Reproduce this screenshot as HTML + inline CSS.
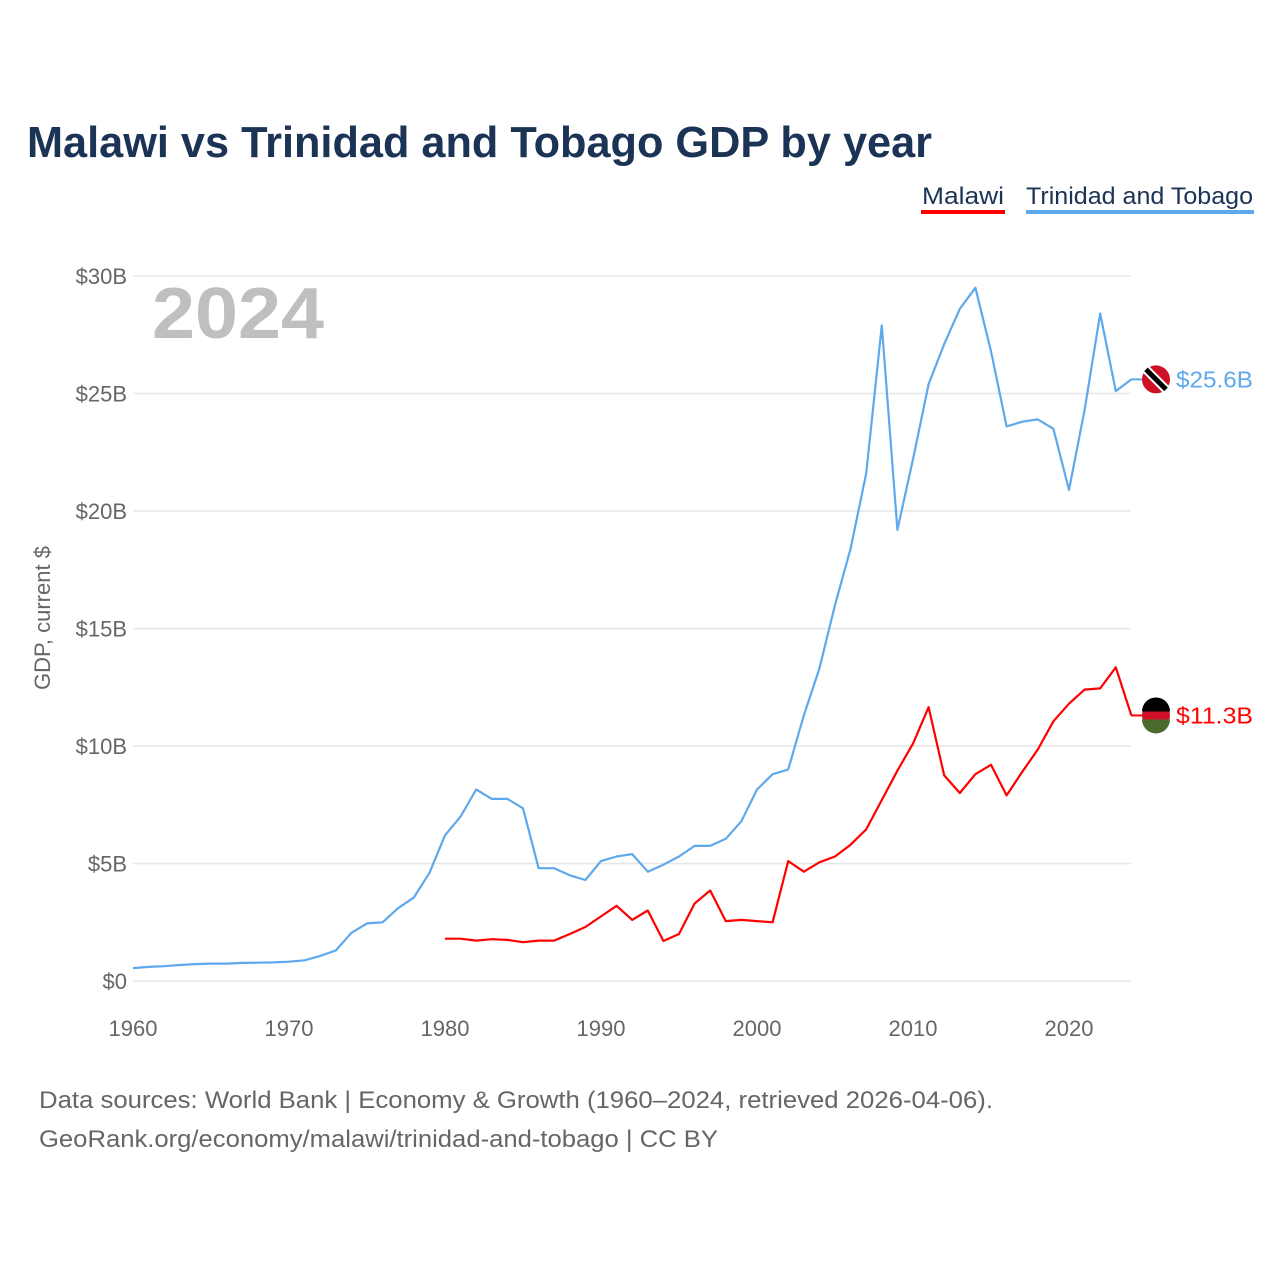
<!DOCTYPE html>
<html><head><meta charset="utf-8"><style>
body{margin:0;background:#fff;}
svg text{font-family:"Liberation Sans",sans-serif;}
</style></head><body>
<svg id="chart" width="1280" height="1280" viewBox="0 0 1280 1280" xmlns="http://www.w3.org/2000/svg">
<text x="27" y="157" font-size="44" font-weight="bold" fill="#1b3354" textLength="905" lengthAdjust="spacingAndGlyphs">Malawi vs Trinidad and Tobago GDP by year</text>
<g><text x="922" y="204" font-size="24" fill="#1b3354" textLength="82" lengthAdjust="spacingAndGlyphs">Malawi</text><rect x="921" y="210" width="84" height="4" fill="#ff0000"/></g>
<g><text x="1026" y="204" font-size="24" fill="#1b3354" textLength="227" lengthAdjust="spacingAndGlyphs">Trinidad and Tobago</text><rect x="1026" y="210" width="228" height="4" fill="#5ea8ec"/></g>
<text x="152" y="338" font-size="72" font-weight="bold" fill="#bfbfbf" textLength="172" lengthAdjust="spacingAndGlyphs">2024</text>
<text transform="translate(50,618) rotate(-90)" font-size="22" fill="#666" text-anchor="middle">GDP, current $</text>
<g id="grid"></g><g id="axes"></g><g id="series"></g>
<text x="39" y="1108" font-size="24" fill="#666" textLength="954" lengthAdjust="spacingAndGlyphs">Data sources: World Bank | Economy &amp; Growth (1960–2024, retrieved 2026-04-06).</text>
<text x="39" y="1147" font-size="24" fill="#666" textLength="679" lengthAdjust="spacingAndGlyphs">GeoRank.org/economy/malawi/trinidad-and-tobago | CC BY</text>
</svg>
<script>
const ttYears0 = 1960;
const ttValues = [0.55,0.6,0.63,0.68,0.72,0.74,0.74,0.77,0.78,0.79,0.82,0.88,1.07,1.3,2.05,2.45,2.5,3.1,3.55,4.6,6.2,7.0,8.15,7.75,7.75,7.35,4.8,4.8,4.5,4.3,5.1,5.3,5.4,4.65,4.95,5.3,5.75,5.75,6.05,6.8,8.15,8.8,9.0,11.3,13.3,16.0,18.4,21.6,27.9,19.2,22.2,25.4,27.1,28.6,29.5,26.8,23.6,23.8,23.9,23.5,20.9,24.3,28.4,25.1,25.6];
const mwYears0 = 1980;
const mwValues = [1.8,1.8,1.72,1.78,1.75,1.65,1.72,1.72,2.0,2.3,2.75,3.2,2.6,3.0,1.7,2.0,3.3,3.85,2.55,2.6,2.55,2.5,5.1,4.65,5.05,5.3,5.8,6.45,7.7,8.95,10.1,11.65,8.75,8.0,8.8,9.2,7.9,8.9,9.85,11.05,11.8,12.4,12.45,13.35,11.3];
const yTicks = [0,5,10,15,20,25,30];
const yTickLabels = ["$0","$5B","$10B","$15B","$20B","$25B","$30B"];
const xTicks = [1960,1970,1980,1990,2000,2010,2020];
const NS="http://www.w3.org/2000/svg";
const x = yr => 133 + (yr-1960)*15.6;
const y = v => 981 - v*23.5;
function mk(tag, attrs, parent){const e=document.createElementNS(NS,tag);for(const k in attrs)e.setAttribute(k,attrs[k]);parent.appendChild(e);return e;}
const grid=document.getElementById('grid'), axes=document.getElementById('axes'), ser=document.getElementById('series');
yTicks.forEach((t,i)=>{
  const l=mk('line',{x1:133,x2:1131,y1:y(t),y2:y(t),stroke:'#e6e6e6','stroke-width':1.5},grid);
  
  
  const tx=mk('text',{x:127,y:y(t)+8,'font-size':22,fill:'#666','text-anchor':'end'},axes);
  tx.textContent=yTickLabels[i];
  
  
});
xTicks.forEach(t=>{
  const tx=mk('text',{x:x(t),y:1036,'font-size':22,fill:'#666','text-anchor':'middle'},axes);
  tx.textContent=t;
  
  
});
function line(vals,y0,color,name){
  const d=vals.map((v,i)=>(i?'L':'M')+x(y0+i).toFixed(1)+','+y(v).toFixed(1)).join('');
  const p=mk('path',{d:d,fill:'none',stroke:color,'stroke-width':2.2,'stroke-linejoin':'round'},ser);
  
  
}
line(ttValues,ttYears0,'#5ea8ec','line-trinidad');
line(mwValues,mwYears0,'#ff0000','line-malawi');
function endLabel(vals,y0,color,name,flag){
  const v=vals[vals.length-1], yy=y(v);
  const g=mk('g',{},ser);
  
  
  mk('line',{x1:1131,x2:1142,y1:yy,y2:yy,stroke:color,'stroke-width':2},g);
  if(flag==='tt'){
    mk('circle',{cx:1156,cy:yy,r:14,fill:'#ce1126'},g);
    mk('line',{x1:1146,y1:yy-10,x2:1166,y2:yy+10,stroke:'#fff','stroke-width':9},g);
    mk('line',{x1:1146,y1:yy-10,x2:1166,y2:yy+10,stroke:'#000','stroke-width':5},g);
  } else {
    mk('circle',{cx:1156,cy:yy,r:14,fill:'#ce1126'},g);
    mk('path',{d:`M1142,${yy-4} A14,14 0 0 1 1170,${yy-4} Z`,fill:'#000'},g);
    mk('path',{d:`M1142,${yy+4} A14,14 0 0 0 1170,${yy+4} Z`,fill:'#4a6a2e'},g);
  }
  const t=mk('text',{x:1176,y:yy+8,'font-size':23,fill:color,textLength:77,lengthAdjust:'spacingAndGlyphs'},g);
  t.textContent='$'+v.toFixed(1)+'B';
}
endLabel(ttValues,ttYears0,'#5ea8ec','end-label-trinidad','tt');
endLabel(mwValues,mwYears0,'#ff0000','end-label-malawi','mw');
</script>
</body></html>
